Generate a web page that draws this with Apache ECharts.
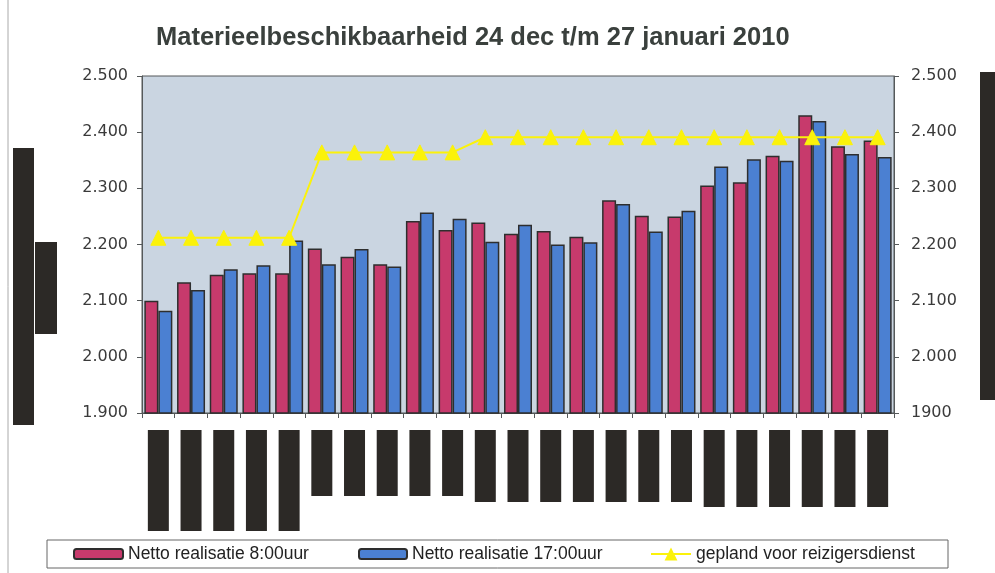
<!DOCTYPE html>
<html>
<head>
<meta charset="utf-8">
<script src="https://cdn.jsdelivr.net/npm/echarts@6/dist/echarts.min.js"></script>
<style>
html,body{margin:0;padding:0;background:#fff;}
#main{width:995px;height:573px;}
</style>
</head>
<body>
<div id="main"></div>
<script>
// Categories (x-axis labels are redacted/blacked out in the reference)
const categories = ['24 dec','28 dec','29 dec','30 dec','31 dec','4 jan','5 jan','6 jan','7 jan','8 jan','11 jan','12 jan','13 jan','14 jan','15 jan','18 jan','19 jan','20 jan','21 jan','22 jan','25 jan','26 jan','27 jan'];
// Redaction block size class per category label
const labelBlock = ['a','a','a','a','a','b','b','b','b','b','c','c','c','c','c','c','c','d','d','d','d','d','d'];

const netto800 = [2100,2133,2146,2149,2149,2193,2178,2165,2242,2226,2239,2219,2224,2214,2279,2251,2250,2305,2311,2358,2430,2375,2385];
const netto1700 = [2082,2119,2156,2163,2207,2165,2192,2161,2257,2246,2205,2235,2200,2204,2272,2223,2260,2339,2352,2349,2420,2361,2356];
const gepland = [2212,2212,2212,2212,2212,2364,2364,2364,2364,2364,2391,2391,2391,2391,2391,2391,2391,2391,2391,2391,2391,2391,2391];

const yMin = 1900, yMax = 2500, yStep = 100;
const leftTickLabels = {1900:'1.900',2000:'2.000',2100:'2.100',2200:'2.200',2300:'2.300',2400:'2.400',2500:'2.500'};
const rightTickLabels = {1900:'1900',2000:'2.000',2100:'2.100',2200:'2.200',2300:'2.300',2400:'2.400',2500:'2.500'};

const seriesNames = ['Netto realisatie 8:00uur','Netto realisatie 17:00uur','gepland voor reizigersdienst'];

const chart = echarts.init(document.getElementById('main'), null, {renderer:'canvas'});
const font = 'Arial, "Liberation Sans", sans-serif';
const wideFont = '"DejaVu Sans", Arial, sans-serif';
const blk = '#2c2926';
const yellow = '#fbf20a';
const legText = {fontFamily:font, fontSize:17.5, color:'#222'};

const option = {
  animation:false,
  backgroundColor:'#ffffff',
  title:{
    text:'Materieelbeschikbaarheid 24 dec t/m 27 januari 2010',
    left:151, top:20,
    textStyle:{fontFamily:font, fontSize:25.5, fontWeight:'bold', color:'#3a403d'}
  },
  grid:{
    left:142, right:101, top:76, bottom:160,
    show:true, backgroundColor:'#cad5e1', borderColor:'#55595a', borderWidth:1
  },
  legend:[
    {data:[seriesNames[0]], left:68, top:540, itemWidth:49, itemHeight:10, textStyle:legText},
    {data:[seriesNames[1]], left:353, top:540, itemWidth:48, itemHeight:10, textStyle:legText},
    {data:[seriesNames[2]], left:645, top:540, itemWidth:40, itemHeight:16, textStyle:legText}
  ],
  xAxis:{
    type:'category', data:categories,
    axisLine:{show:true, lineStyle:{color:'#55595a', width:1}},
    axisTick:{show:true, length:5, lineStyle:{color:'#55595a'}},
    axisLabel:{
      interval:0, margin:17,
      formatter:(v, i) => '{' + labelBlock[i] + '|}',
      rich:{
        a:{width:21, height:101, backgroundColor:blk},
        b:{width:21, height:66, backgroundColor:blk},
        c:{width:21, height:72, backgroundColor:blk},
        d:{width:21, height:77, backgroundColor:blk}
      }
    }
  },
  yAxis:[
    {type:'value', min:yMin, max:yMax, interval:yStep, position:'left',
     axisLine:{show:true, lineStyle:{color:'#55595a'}},
     axisTick:{show:true, length:5, lineStyle:{color:'#55595a'}},
     splitLine:{show:false},
     axisLabel:{margin:14, fontFamily:wideFont, fontSize:16, color:'#3a3a3a',
       formatter:v => leftTickLabels[v] || String(v)}},
    {type:'value', min:yMin, max:yMax, interval:yStep, position:'right',
     axisLine:{show:true, lineStyle:{color:'#55595a'}},
     axisTick:{show:true, length:5, lineStyle:{color:'#55595a'}},
     splitLine:{show:false},
     axisLabel:{margin:17, fontFamily:wideFont, fontSize:16, color:'#3a3a3a',
       formatter:v => rightTickLabels[v] || String(v)}}
  ],
  series:[
    {name:seriesNames[0], type:'bar', data:netto800, barWidth:14, barGap:'0%',
     itemStyle:{color:'#c73a6c', borderColor:'#2e2e2e', borderWidth:1.5}},
    {name:seriesNames[1], type:'bar', data:netto1700, barWidth:14, barGap:'0%',
     itemStyle:{color:'#4b80d2', borderColor:'#2e2e2e', borderWidth:1.5}},
    {name:seriesNames[2], type:'line', data:gepland, yAxisIndex:0,
     symbol:'triangle', symbolSize:15,
     lineStyle:{color:yellow, width:2},
     itemStyle:{color:yellow, borderColor:yellow}}
  ],
  graphic:[
    // legend frame
    {type:'rect', shape:{x:47, y:540, width:901, height:28}, style:{fill:'none', stroke:'#666', lineWidth:1}, z:-1},
    // redacted axis titles
    {type:'rect', shape:{x:13, y:148, width:21, height:277}, style:{fill:blk}},
    {type:'rect', shape:{x:35, y:242, width:22, height:92}, style:{fill:blk}},
    {type:'rect', shape:{x:980, y:72, width:15, height:328}, style:{fill:blk}},
    // scan frame edge
    {type:'line', shape:{x1:8, y1:0, x2:8, y2:573}, style:{stroke:'#aaa', lineWidth:1}}
  ]
};
chart.setOption(option);
</script>
</body>
</html>
